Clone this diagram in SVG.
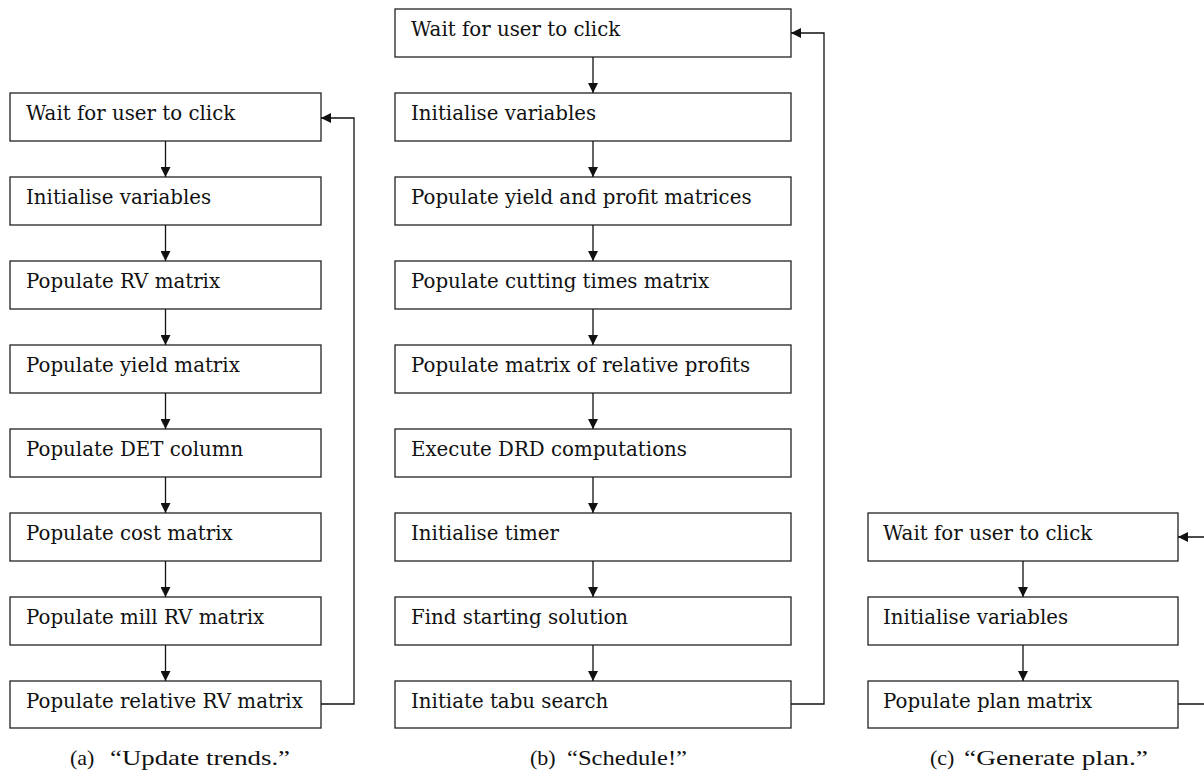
<svg xmlns="http://www.w3.org/2000/svg" width="1204" height="773" viewBox="0 0 1204 773">
<style>
.box{fill:#fff;stroke:#222;stroke-width:1.3}
.lbl{font-family:"DejaVu Serif","Liberation Serif",serif;font-size:19.8px;fill:#111}
.cap{font-family:"Liberation Serif","DejaVu Serif",serif;font-size:22px;fill:#111}
.con{fill:none;stroke:#111;stroke-width:1.3}
</style>
<defs>
<marker id="ah" viewBox="0 0 10 10" refX="10" refY="5" markerWidth="10" markerHeight="10" markerUnits="userSpaceOnUse" orient="auto">
<path d="M0,0 L10,5 L0,10 z" fill="#111"/>
</marker>
</defs>
<rect width="1204" height="773" fill="#fff"/>

<!-- Panel (a) -->
<g id="a1"><rect class="box" x="10" y="93" width="311" height="48"/><text class="lbl" x="26" y="120">Wait for user to click</text></g>
<g id="a2"><rect class="box" x="10" y="177" width="311" height="48"/><text class="lbl" x="26" y="204">Initialise variables</text></g>
<g id="a3"><rect class="box" x="10" y="261" width="311" height="48"/><text class="lbl" x="26" y="288">Populate RV matrix</text></g>
<g id="a4"><rect class="box" x="10" y="345" width="311" height="48"/><text class="lbl" x="26" y="372">Populate yield matrix</text></g>
<g id="a5"><rect class="box" x="10" y="429" width="311" height="48"/><text class="lbl" x="26" y="456">Populate DET column</text></g>
<g id="a6"><rect class="box" x="10" y="513" width="311" height="48"/><text class="lbl" x="26" y="540">Populate cost matrix</text></g>
<g id="a7"><rect class="box" x="10" y="597" width="311" height="48"/><text class="lbl" x="26" y="624">Populate mill RV matrix</text></g>
<g id="a8"><rect class="box" x="10" y="681" width="311" height="47"/><text class="lbl" x="26" y="708">Populate relative RV matrix</text></g>
<text id="capA" class="cap" y="765"><tspan x="70">(a)</tspan><tspan x="110" textLength="180" lengthAdjust="spacingAndGlyphs">“Update trends.”</tspan></text>

<!-- Panel (b) -->
<g id="b1"><rect class="box" x="395" y="9" width="396" height="48"/><text class="lbl" x="411" y="36">Wait for user to click</text></g>
<g id="b2"><rect class="box" x="395" y="93" width="396" height="48"/><text class="lbl" x="411" y="120">Initialise variables</text></g>
<g id="b3"><rect class="box" x="395" y="177" width="396" height="48"/><text class="lbl" x="411" y="204">Populate yield and profit matrices</text></g>
<g id="b4"><rect class="box" x="395" y="261" width="396" height="48"/><text class="lbl" x="411" y="288">Populate cutting times matrix</text></g>
<g id="b5"><rect class="box" x="395" y="345" width="396" height="48"/><text class="lbl" x="411" y="372">Populate matrix of relative profits</text></g>
<g id="b6"><rect class="box" x="395" y="429" width="396" height="48"/><text class="lbl" x="411" y="456">Execute DRD computations</text></g>
<g id="b7"><rect class="box" x="395" y="513" width="396" height="48"/><text class="lbl" x="411" y="540">Initialise timer</text></g>
<g id="b8"><rect class="box" x="395" y="597" width="396" height="48"/><text class="lbl" x="411" y="624">Find starting solution</text></g>
<g id="b9"><rect class="box" x="395" y="681" width="396" height="47"/><text class="lbl" x="411" y="708">Initiate tabu search</text></g>
<text id="capB" class="cap" y="765"><tspan x="530">(b)</tspan><tspan x="567" textLength="120" lengthAdjust="spacingAndGlyphs">“Schedule!”</tspan></text>

<!-- Panel (c) -->
<g id="c1"><rect class="box" x="868" y="513" width="310" height="48"/><text class="lbl" x="883" y="540">Wait for user to click</text></g>
<g id="c2"><rect class="box" x="868" y="597" width="310" height="48"/><text class="lbl" x="883" y="624">Initialise variables</text></g>
<g id="c3"><rect class="box" x="868" y="681" width="310" height="47"/><text class="lbl" x="883" y="708">Populate plan matrix</text></g>
<text id="capC" class="cap" y="765"><tspan x="930">(c)</tspan><tspan x="964" textLength="184" lengthAdjust="spacingAndGlyphs">“Generate plan.”</tspan></text>

<g id="connectors">
<path class="con" marker-end="url(#ah)" d="M165.5,141 V177"/>
<path class="con" marker-end="url(#ah)" d="M165.5,225 V261"/>
<path class="con" marker-end="url(#ah)" d="M165.5,309 V345"/>
<path class="con" marker-end="url(#ah)" d="M165.5,393 V429"/>
<path class="con" marker-end="url(#ah)" d="M165.5,477 V513"/>
<path class="con" marker-end="url(#ah)" d="M165.5,561 V597"/>
<path class="con" marker-end="url(#ah)" d="M165.5,645 V681"/>
<path class="con" marker-end="url(#ah)" d="M321,704 H354 V118 H321"/>

<path class="con" marker-end="url(#ah)" d="M593,57 V93"/>
<path class="con" marker-end="url(#ah)" d="M593,141 V177"/>
<path class="con" marker-end="url(#ah)" d="M593,225 V261"/>
<path class="con" marker-end="url(#ah)" d="M593,309 V345"/>
<path class="con" marker-end="url(#ah)" d="M593,393 V429"/>
<path class="con" marker-end="url(#ah)" d="M593,477 V513"/>
<path class="con" marker-end="url(#ah)" d="M593,561 V597"/>
<path class="con" marker-end="url(#ah)" d="M593,645 V681"/>
<path class="con" marker-end="url(#ah)" d="M791,704 H824 V33 H791"/>

<path class="con" marker-end="url(#ah)" d="M1023,561 V597"/>
<path class="con" marker-end="url(#ah)" d="M1023,645 V681"/>
<path class="con" marker-end="url(#ah)" d="M1178,704 H1211 V537 H1178"/>
</g>
</svg>
